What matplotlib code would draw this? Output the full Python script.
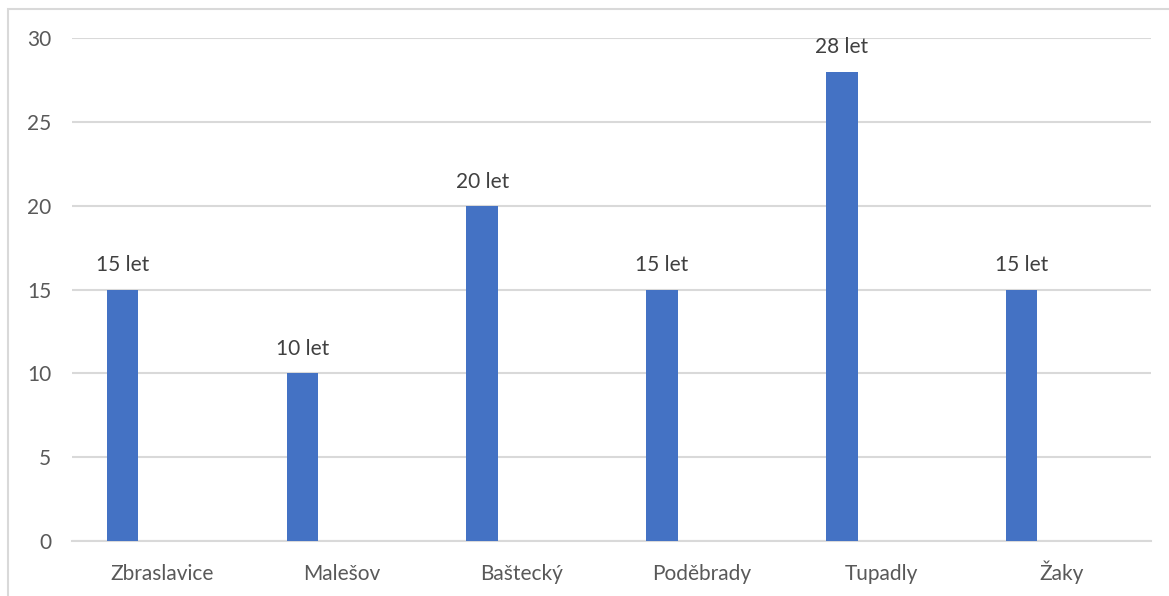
import matplotlib.pyplot as plt
import numpy as np
from matplotlib.patches import Rectangle

# data
categories = ["Zbraslavice", "Malešov", "Baštecký", "Poděbrady", "Tupadly", "Žaky"]
years      = [15, 10, 20, 15, 28, 15]
labels     = ["15 let", "10 let", "20 let", "15 let", "28 let", "15 let"]

plt.rcParams['font.family'] = ['Lato', 'DejaVu Sans']

fig = plt.figure(figsize=(11.69, 5.96), dpi=100)
ax = fig.add_axes([72/1169, 1-541/596, (1151-72)/1169, (541-38)/596])

# outer chart border (cropped on right and bottom)
fig.patches.append(Rectangle((8/1169, -0.1), 1.2, 1-9/596+0.1, transform=fig.transFigure,
                             fill=False, edgecolor="#d9d9d9", linewidth=1.5, zorder=0))

# bars, shifted left inside each category (second series is empty)
x = np.arange(len(categories))
barOffset = -0.219
barWidth  = 0.175
ax.bar(x + barOffset, years, width=barWidth, color="#4472C4", zorder=3)

# value labels
for i in range(len(categories)):
    ax.annotate(labels[i], xy=(x[i] + barOffset, years[i]), xytext=(0, 13),
                textcoords="offset points", ha="center", va="baseline",
                fontsize=15, color="#404040")

# axes formatting
ax.set_xlim(-0.5, len(categories) - 0.5)
ax.set_ylim(0, 30)
ax.set_yticks(np.arange(0, 31, 5))
ax.set_xticks(x)
ax.set_xticklabels(categories, va="baseline")
ax.yaxis.grid(True, color="#d9d9d9", linewidth=1.5)
ax.set_axisbelow(True)
for s in ["top", "right", "left"]:
    ax.spines[s].set_visible(False)
ax.spines["bottom"].set_color("#d9d9d9")
ax.spines["bottom"].set_linewidth(1.5)
ax.tick_params(axis="both", length=0, labelsize=15, labelcolor="#595959")
ax.tick_params(axis="y", pad=15)
ax.tick_params(axis="x", pad=28)

fig.savefig("out.png", dpi=100)
